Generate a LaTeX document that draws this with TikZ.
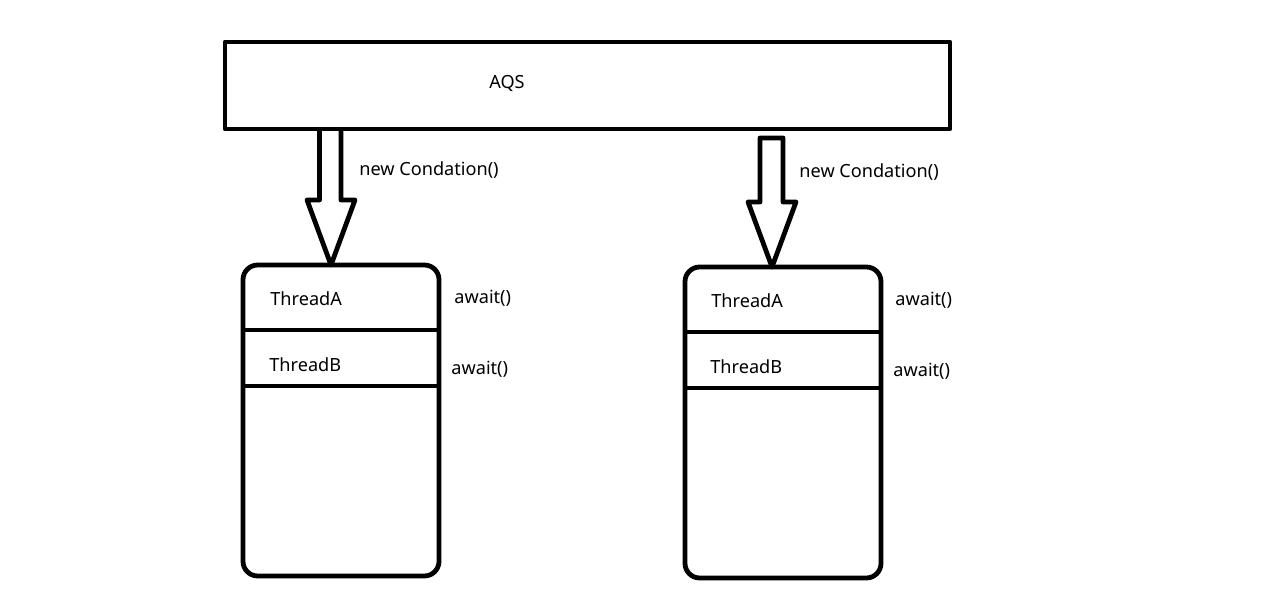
\documentclass[tikz,border=0pt]{standalone}
\usepackage{fontspec}
\setmainfont{Noto Sans}
\begin{document}
\begin{tikzpicture}[x=0.75pt,y=-0.75pt,line width=3.6pt,line join=round,
  txt/.style={font=\fontsize{13.6}{16}\selectfont,inner sep=0pt,anchor=west},
  lane/.style={draw,rounded corners=11pt}]
\useasboundingbox (0,0) rectangle (1273,605);
\fill[white] (0,0) rectangle (1273,605);
% AQS box
\draw (225,42) rectangle (950,129);
\node[txt,anchor=center] (aqs) at (507,83) {AQS};
% left block arrow
\draw (319.5,131) -- (319.5,200) -- (307,200) -- (331,265) -- (355,200) -- (341,200) -- (341,131);
\node[txt] (nc1) at (357,170) {new Condation()};
% right block arrow
\draw (760,138) -- (760,202) -- (748,202) -- (772,267) -- (796,202) -- (783,202) -- (783,138) -- cycle;
\node[txt] (nc2) at (797,172) {new Condation()};
% left lane
\draw[lane] (243,265) rectangle (439,576);
\draw (241,330) -- (439,330);
\draw (241,386) -- (439,386);
\node[txt] (ta1) at (268,299) {ThreadA};
\node[txt] (tb1) at (267,365) {ThreadB};
\node[txt] (aw1) at (452,298) {await()};
\node[txt] (aw2) at (449,369) {await()};
% right lane
\draw[lane] (685,267) rectangle (881,578);
\draw (683,332) -- (881,332);
\draw (683,388) -- (881,388);
\node[txt] (ta2) at (709,301) {ThreadA};
\node[txt] (tb2) at (708,367) {ThreadB};
\node[txt] (aw3) at (893,300) {await()};
\node[txt] (aw4) at (891,371) {await()};
\end{tikzpicture}
\end{document}
